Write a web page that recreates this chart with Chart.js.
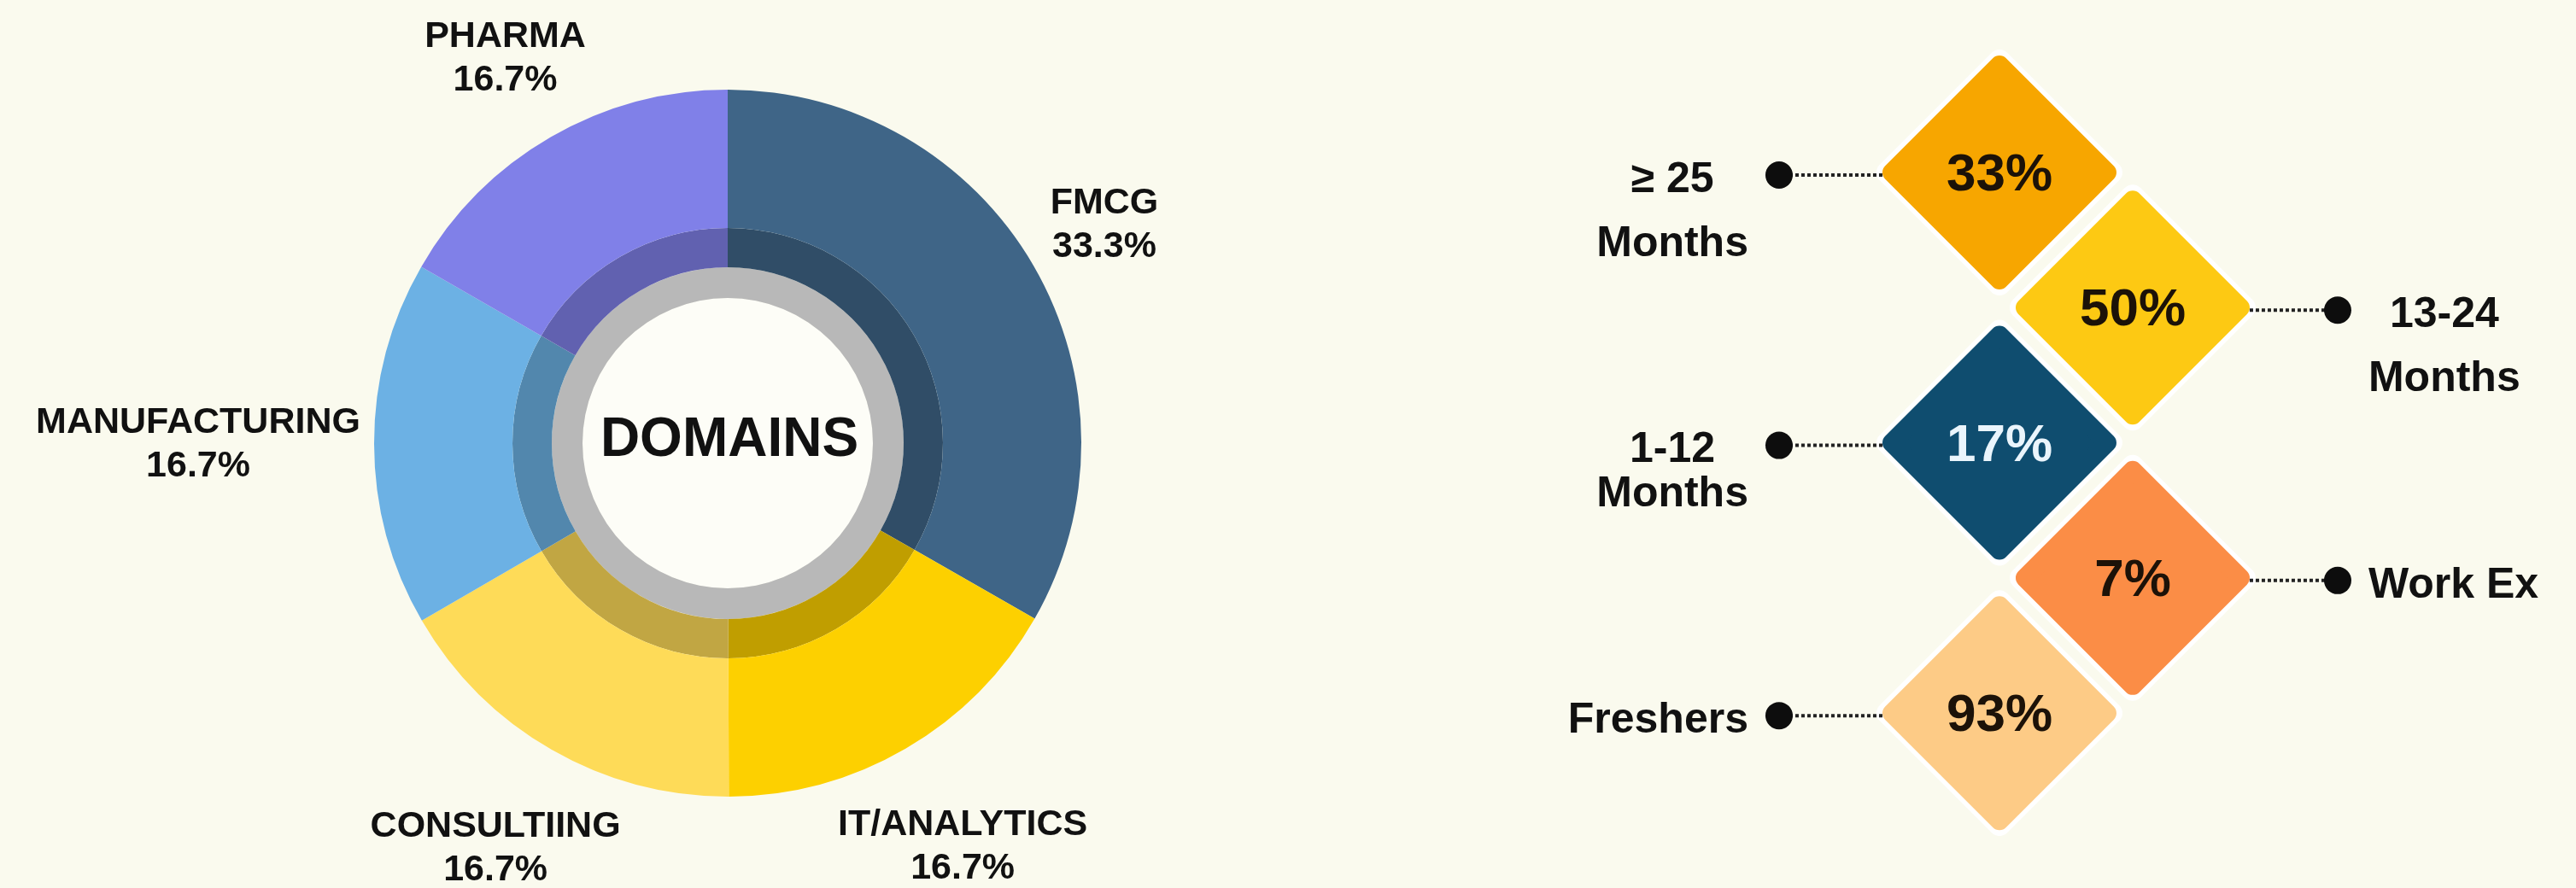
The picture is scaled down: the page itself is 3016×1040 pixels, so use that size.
<!DOCTYPE html>
<html>
<head>
<meta charset="utf-8">
<script src="https://cdn.jsdelivr.net/npm/chart.js@4.4.1/dist/chart.umd.min.js"></script>
<style>
  html, body { margin: 0; padding: 0; background: #fafaee; }
  #wrap { position: relative; width: 3016px; height: 1040px; background: #fafaee; overflow: hidden; }
  #domainChart { position: absolute; left: 0; top: 0; }
  #tenureChart { position: absolute; left: 1704px; top: 0; }
</style>
</head>
<body>
<div id="wrap">
  <canvas id="domainChart" width="1704" height="1040"></canvas>
  <canvas id="tenureChart" width="1312" height="1040"></canvas>
</div>
<script>
// ---------------- DATA ----------------
const domainLabels = ['FMCG', 'IT/ANALYTICS', 'CONSULTIING', 'MANUFACTURING', 'PHARMA'];
const domainShares = [33.3, 16.7, 16.7, 16.7, 16.7];
const centerTitle = 'DOMAINS';

const tenureLabels = [['\u2265 25', 'Months'], ['13-24', 'Months'], ['1-12', 'Months'], ['Work Ex'], ['Freshers']];
const tenureShares = [33, 50, 17, 7, 93];

// ---------------- STYLE ----------------
const FONT = '"Liberation Sans", Arial, sans-serif';
const domainColors = ['#3f6587', '#fdd000', '#fedb58', '#6cb1e4', '#8080e8'];
const tenureColors = ['#f7a600', '#fdc913', '#0f4d6f', '#fb8d46', '#fdcb86'];
const tenureTextColors = ['#1c1208', '#1c1208', '#eaf5fc', '#1c1208', '#1c1208'];
const labelLineGap = [75, 75, 52, 0, 0];

function darken(hex, f) {
  const n = parseInt(hex.slice(1), 16);
  const r = Math.round(((n >> 16) & 255) * f);
  const g = Math.round(((n >> 8) & 255) * f);
  const b = Math.round((n & 255) * f);
  return `rgb(${r},${g},${b})`;
}

// ---------------- DOUGHNUT ----------------
const centerPlugin = {
  id: 'centerDisc',
  beforeDatasetsDraw(chart) {
    const meta = chart.getDatasetMeta(2);
    const arc = meta.data[0];
    if (!arc) return;
    const { x, y, innerRadius } = arc.getProps(['x', 'y', 'innerRadius'], true);
    const ctx = chart.ctx;
    ctx.save();
    ctx.beginPath();
    ctx.arc(x, y, innerRadius, 0, Math.PI * 2);
    ctx.fillStyle = '#fdfdf7';
    ctx.fill();
    ctx.restore();
  },
  afterDatasetsDraw(chart) {
    const arc = chart.getDatasetMeta(2).data[0];
    const { x, y } = arc.getProps(['x', 'y'], true);
    const ctx = chart.ctx;
    ctx.save();
    ctx.font = `bold 64px ${FONT}`;
    ctx.fillStyle = '#111';
    ctx.textAlign = 'center';
    ctx.textBaseline = 'middle';
    ctx.fillText(centerTitle, x + 2, y - 3);
    ctx.restore();
  }
};

const domainLabelPlugin = {
  id: 'domainLabels',
  afterDatasetsDraw(chart) {
    const ctx = chart.ctx;
    const meta = chart.getDatasetMeta(0);
    const ds = chart.data.datasets[0];
    ctx.save();
    ctx.font = `bold 43px ${FONT}`;
    ctx.fillStyle = '#111';
    ctx.textAlign = 'center';
    ctx.textBaseline = 'middle';
    meta.data.forEach((arc, i) => {
      const p = arc.getProps(['x', 'y', 'startAngle', 'endAngle', 'outerRadius'], true);
      const mid = (p.startAngle + p.endAngle) / 2;
      const dx = Math.cos(mid), dy = Math.sin(mid);
      const l1 = chart.data.labels[i];
      const l2 = ds.data[i].toFixed(1) + '%';
      const w = Math.max(ctx.measureText(l1).width, ctx.measureText(l2).width);
      const h = 100;
      const dist = p.outerRadius + 16 + Math.abs(dx) * w / 2 + Math.abs(dy) * h / 2;
      const cx = p.x + dx * dist;
      const cy = p.y + dy * dist;
      ctx.fillText(l1, cx, cy - 25);
      ctx.fillText(l2, cx, cy + 26);
    });
    ctx.restore();
  }
};

new Chart(document.getElementById('domainChart'), {
  type: 'doughnut',
  data: {
    labels: domainLabels,
    datasets: [
      { data: domainShares, backgroundColor: domainColors, weight: 162,
        borderWidth: 0, hoverBorderWidth: 0, hoverOffset: 0, offset: 0 },
      { data: domainShares, backgroundColor: domainColors.map(c => darken(c, 0.76)), weight: 46,
        borderWidth: 0, hoverBorderWidth: 0, hoverOffset: 0, offset: 0 },
      { data: [1], backgroundColor: ['#b8b8b8'], weight: 36,
        borderWidth: 0, hoverBorderWidth: 0, hoverOffset: 0, offset: 0 }
    ]
  },
  options: {
    responsive: false,
    animation: false,
    events: [],
    cutout: 170,
    radius: 414,
    layout: { padding: { top: 105, bottom: 107, left: 0, right: 0 } },
    plugins: { legend: { display: false }, tooltip: { enabled: false } }
  },
  plugins: [centerPlugin, domainLabelPlugin]
});

// ---------------- DIAMONDS ----------------
const tenurePoints = tenureShares.map((v, i) => ({ x: i % 2, y: i }));

const diamondPlugin = {
  id: 'diamondDecor',
  beforeDatasetsDraw(chart) {
    chart.ctx.lineJoin = 'round';
  },
  afterDatasetsDraw(chart) {
    const ctx = chart.ctx;
    const meta = chart.getDatasetMeta(0);
    ctx.save();
    meta.data.forEach((pt, i) => {
      const { x, y } = pt.getProps(['x', 'y'], true);
      const left = i % 2 === 0;
      const half = 137;
      const vx = left ? x - half : x + half;
      const dotX = left ? x - 258 : x + 240;
      // dotted connector
      ctx.beginPath();
      ctx.setLineDash([4, 3]);
      ctx.lineWidth = 4;
      ctx.strokeStyle = '#222';
      ctx.moveTo(vx, y + 3);
      ctx.lineTo(dotX, y + 3);
      ctx.stroke();
      ctx.setLineDash([]);
      // dot
      ctx.beginPath();
      ctx.arc(dotX, y + 3, 16, 0, Math.PI * 2);
      ctx.fillStyle = '#0d0d0d';
      ctx.fill();
      // value in diamond
      ctx.font = `bold 62px ${FONT}`;
      ctx.textAlign = 'center';
      ctx.textBaseline = 'middle';
      ctx.fillStyle = tenureTextColors[i];
      ctx.fillText(tenureShares[i] + '%', x, y + 4);
      // label
      const lines = tenureLabels[i];
      ctx.font = `bold 50px ${FONT}`;
      ctx.fillStyle = '#111';
      const w = Math.max(...lines.map(s => ctx.measureText(s).width));
      const bx = left ? dotX - 36 - w / 2 : dotX + 36 + w / 2;
      lines.forEach((s, k) => {
        ctx.fillText(s, bx, y + 9 + k * labelLineGap[i]);
      });
    });
    ctx.restore();
  }
};

new Chart(document.getElementById('tenureChart'), {
  type: 'scatter',
  data: {
    datasets: [
      { data: tenurePoints, pointStyle: 'rectRot', pointRadius: 126, pointBorderWidth: 22,
        pointBackgroundColor: tenureColors, pointBorderColor: tenureColors, clip: false, order: 0 },
      { data: tenurePoints, pointStyle: 'rectRot', pointRadius: 131, pointBorderWidth: 26,
        pointBackgroundColor: 'rgba(255,255,255,0.95)', pointBorderColor: 'rgba(255,255,255,0.95)', clip: false, order: 1 }
    ]
  },
  options: {
    responsive: false,
    animation: false,
    events: [],
    layout: { padding: 0, autoPadding: false },
    scales: {
      x: { type: 'linear', min: -4.083, max: 4.327, display: false },
      y: { type: 'linear', min: -1.276, max: 5.294, reverse: true, display: false }
    },
    plugins: { legend: { display: false }, tooltip: { enabled: false } }
  },
  plugins: [diamondPlugin]
});
</script>
</body>
</html>
